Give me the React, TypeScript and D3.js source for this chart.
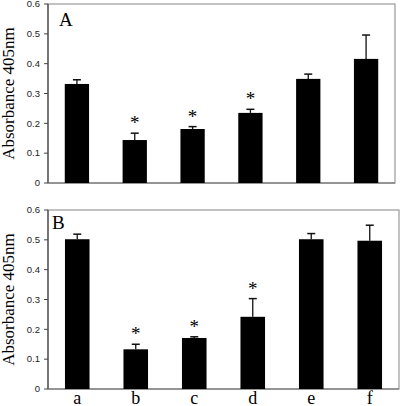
import React from "react";
import * as d3 from "d3";

const categories = ["a", "b", "c", "d", "e", "f"];
const valuesA = [0.332, 0.144, 0.181, 0.235, 0.349, 0.416];
const errorsA = [0.014, 0.023, 0.008, 0.012, 0.016, 0.08];
const starsA = [false, true, true, true, false, false];
const valuesB = [0.502, 0.133, 0.171, 0.242, 0.502, 0.497];
const errorsB = [0.017, 0.017, 0.004, 0.061, 0.019, 0.052];
const starsB = [false, true, true, true, false, false];
const yTicks = [0, 0.1, 0.2, 0.3, 0.4, 0.5, 0.6];

type PanelProps = {
  values: number[];
  errors: number[];
  stars: boolean[];
  label: string;
  top: number;
  bottom: number;
  left: number;
  right: number;
  labelX: number;
  labelY: number;
  showCats: boolean;
};

function Panel(p: PanelProps) {
  const x = d3.scaleBand<string>().domain(categories).range([p.left, p.right]).paddingInner(0.58).paddingOuter(0.29);
  const y = d3.scaleLinear().domain([0, 0.6]).range([p.bottom, p.top]);
  const bw = x.bandwidth();
  return (
    <g>
      <rect x={p.left} y={p.top} width={p.right - p.left} height={p.bottom - p.top} fill="none" stroke="#999" strokeWidth={1.2} />
      <line x1={p.left} x2={p.left} y1={p.top} y2={p.bottom} stroke="#444" strokeWidth={1.2} />
      <line x1={p.left} x2={p.right} y1={p.bottom} y2={p.bottom} stroke="#666" strokeWidth={1.2} />
      {yTicks.map((t) => (
        <g key={t}>
          <line x1={p.left - 4} x2={p.left} y1={y(t)} y2={y(t)} stroke="#444" />
          <text x={p.left - 8} y={y(t)} dy="0.35em" textAnchor="end" fontFamily="Liberation Sans, Arial, sans-serif" fontSize={9.5} fill="#222">
            {t === 0 ? "0" : t.toFixed(1)}
          </text>
        </g>
      ))}
      {categories.map((c, i) => {
        const cx = (x(c) as number) + bw / 2;
        const v = p.values[i];
        const e = p.errors[i];
        return (
          <g key={c}>
            <line x1={cx} x2={cx} y1={y(v)} y2={y(v + e)} stroke="#111" strokeWidth={1.3} />
            <line x1={cx - 4} x2={cx + 4} y1={y(v + e)} y2={y(v + e)} stroke="#111" strokeWidth={1.5} />
            <rect x={x(c)} y={y(v)} width={bw} height={y(0) - y(v)} fill="#000" />
            {p.stars[i] && (
              <text x={cx} y={y(v + e) - 4} textAnchor="middle" fontFamily="Liberation Serif, Times New Roman, serif" fontSize={19} fill="#000">
                *
              </text>
            )}
            {p.showCats && (
              <text x={cx} y={p.bottom + 15} textAnchor="middle" fontFamily="Liberation Serif, Times New Roman, serif" fontSize={18} fill="#000">
                {c}
              </text>
            )}
          </g>
        );
      })}
      <text x={p.labelX} y={p.labelY} fontFamily="Liberation Serif, Times New Roman, serif" fontSize={19} fill="#000">
        {p.label}
      </text>
      <text
        transform={`translate(14,${(p.top + p.bottom) / 2}) rotate(-90)`}
        textAnchor="middle"
        fontFamily="Liberation Serif, Times New Roman, serif"
        fontSize={17}
        fill="#000"
      >
        Absorbance 405nm
      </text>
    </g>
  );
}

export default function App() {
  return (
    <svg width={400} height={406} style={{ position: "absolute", left: 0, top: 0, background: "#fff" }}>
      <rect width={400} height={406} fill="#fff" />
      <Panel values={valuesA} errors={errorsA} stars={starsA} label="A" top={4} bottom={183} left={48} right={395} labelX={59} labelY={26} showCats={false} />
      <Panel values={valuesB} errors={errorsB} stars={starsB} label="B" top={210} bottom={389} left={48} right={399} labelX={52} labelY={229} showCats={true} />
    </svg>
  );
}
